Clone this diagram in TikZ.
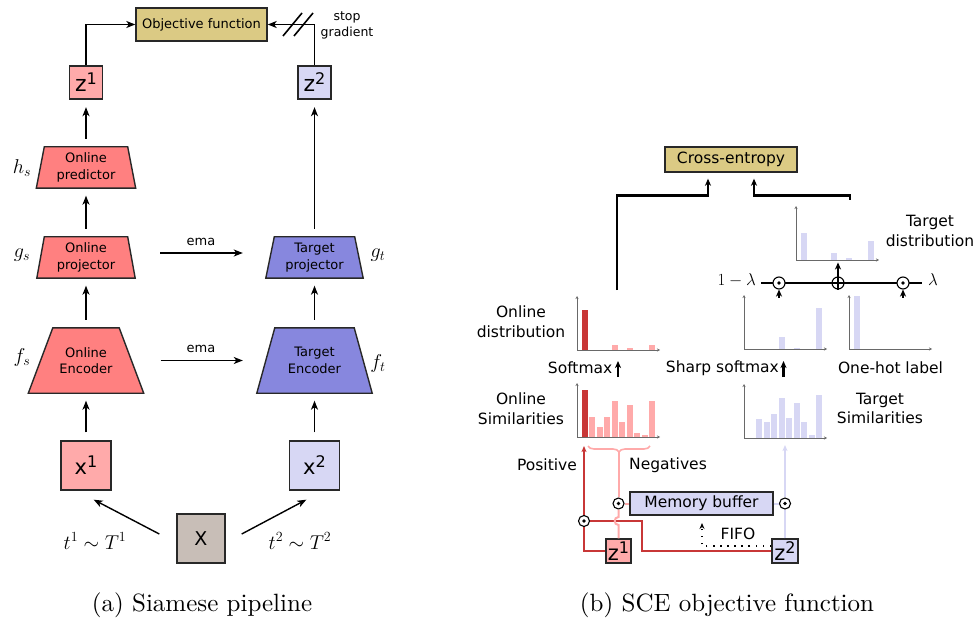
\RequirePackage{fix-cm}
\documentclass[tikz,border=0pt]{standalone}
\usepackage{fontspec}
\newfontfamily\dv{DejaVu Sans}
\newfontfamily\capfont{lmroman10-regular}[Extension=.otf]
\usetikzlibrary{arrows.meta,calc,decorations.pathreplacing}
\pgfdeclarelayer{bg}
\pgfsetlayers{bg,main}

\definecolor{objtan}{RGB}{219,202,132}
\definecolor{pinkbox}{RGB}{255,170,170}
\definecolor{onl}{RGB}{255,128,128}
\definecolor{tgt}{RGB}{135,135,222}
\definecolor{lav}{RGB}{215,215,244}
\definecolor{taupe}{RGB}{200,190,183}
\definecolor{dred}{RGB}{200,55,55}
\definecolor{edge}{RGB}{40,40,40}
\definecolor{axisgray}{RGB}{105,105,105}

% bar chart: origin x, origin y, list of slot/height/colour
\newcommand\sceBars[3]{%
  \foreach \s/\h/\c in {#3}{\fill[\c] ({#1+4.5+7.5*\s},#2) rectangle ++(6,-\h);}
  \draw[axisline] (#1,#2) -- ++(0,-54);
  \draw[axisline] (#1,#2) -- ++(83,0);
}
% trapezoid body behind a named text node
\newcommand\trapBody[3]{%
  \filldraw[fill=#3, draw=edge, line width=1.4pt, line join=miter]
    ($(#1.north west)+(#2,0)$) -- ($(#1.north east)+(-#2,0)$)
    -- (#1.south east) -- (#1.south west) -- cycle;}
% sans letter with a raised index
\newcommand\sansSup[4]{{\dv\fontsize{#3}{#3}\selectfont #1\raisebox{#4}{\fontsize{16}{16}\selectfont #2}}}

\begin{document}
\begin{tikzpicture}[x=1pt,y=-1pt,
  txt/.style={font=\dv\fontsize{13}{16.5}\selectfont, align=center, inner sep=0pt},
  rtxt/.style={font=\dv\fontsize{15.5}{19.5}\selectfont, align=center, inner sep=0pt},
  box/.style={draw=edge, line width=1.4pt, inner sep=0pt},
  mlbl/.style={font=\fontsize{20}{24}\selectfont, inner sep=0pt},
  rmlbl/.style={font=\fontsize{17}{20}\selectfont, inner sep=0pt},
  flow/.style={line width=1.4pt, -{Stealth[length=9pt,width=7pt,inset=2.5pt]}},
  gap/.style={shorten <=8pt, shorten >=7.5pt},
  thickflow/.style={line width=2.7pt, -{Stealth[length=7pt,width=6pt,inset=2pt]}},
  axisline/.style={draw=axisgray, line width=0.9pt, -{Stealth[length=3pt,width=3pt]}},
  redl/.style={draw=dred, line width=2pt},
  pinkl/.style={draw=pinkbox, line width=2pt},
  lavl/.style={draw=lav, line width=2pt},
  smallhead/.style={-{Stealth[length=6pt,width=5pt,inset=1.5pt]}},
  odot/.style={circle, draw=black, fill=white, line width=1.1pt, minimum size=11pt, inner sep=0pt},
  oplus/.style={circle, draw=black, fill=white, line width=1.1pt, minimum size=12pt, inner sep=0pt},
  caption/.style={font=\capfont\fontsize{25}{30}\selectfont, inner sep=0pt}
]
\useasboundingbox (0,0) rectangle (974,620);

% ---------------- (a) Siamese pipeline ----------------
\node[box, fill=objtan, minimum width=131pt, minimum height=33pt, txt] (obj) at (201.5,24.5) {Objective function};
\node[box, fill=pinkbox, minimum width=33pt, minimum height=33pt] (z1) at (86,82.5) {\sansSup{z}{1}{22}{7pt}};
\node[box, fill=lav, minimum width=33pt, minimum height=33pt] (z2) at (314.5,82.5) {\sansSup{z}{2}{22}{7pt}};

\node[txt, minimum width=99pt, minimum height=41pt] (pred) at (86,167.5) {Online\\predictor};
\node[txt, minimum width=98pt, minimum height=41pt] (proj) at (86,257.5) {Online\\projector};
\node[txt, minimum width=115pt, minimum height=65pt] (enc) at (86,360.5) {Online\\Encoder};
\node[txt, minimum width=97pt, minimum height=41pt] (tproj) at (314.5,257.5) {Target\\projector};
\node[txt, minimum width=115pt, minimum height=65pt] (tenc) at (314.5,360.5) {Target\\Encoder};
\begin{pgfonlayer}{bg}
  \trapBody{pred}{8}{onl}
  \trapBody{proj}{7.5}{onl}
  \trapBody{enc}{24.5}{onl}
  \trapBody{tproj}{8.5}{tgt}
  \trapBody{tenc}{18}{tgt}
\end{pgfonlayer}

\node[box, fill=pinkbox, minimum width=50pt, minimum height=49pt] (x1) at (86,465.5) {\sansSup{x}{1}{21}{7pt}};
\node[box, fill=lav, minimum width=50pt, minimum height=49pt] (x2) at (314.5,465.5) {\sansSup{x}{2}{21}{7pt}};
\node[box, fill=taupe, minimum width=48pt, minimum height=49pt, font=\dv\fontsize{19}{19}\selectfont] (X) at (201,538.5) {X};

\node[mlbl] (hs) at (22,168) {$h_s$};
\node[mlbl] (gs) at (22,255) {$g_s$};
\node[mlbl] (fs) at (22,357) {$f_s$};
\node[mlbl] (gt) at (378,255) {$g_t$};
\node[mlbl] (ft) at (378,363) {$f_t$};
\node[mlbl] (t1) at (95,541) {$t^1\sim T^1$};
\node[mlbl] (t2) at (300,541) {$t^2\sim T^2$};

\draw[flow] (z1.north) |- (obj.west);
\draw[flow] (z2.north) |- (obj.east);
\draw[line width=1.6pt] (283,36) -- (302,13) (294,36) -- (313,13);
\node[txt, font=\dv\fontsize{12.5}{16}\selectfont] (sg) at (347,25) {stop\\gradient};

\draw[flow,gap] (pred) -- (z1);
\draw[flow,gap] (proj) -- (pred);
\draw[flow,gap] (enc) -- (proj);
\draw[flow,gap] (x1) -- (enc);
\draw[flow,gap] (tproj) -- (z2);
\draw[flow,gap] (tenc) -- (tproj);
\draw[flow,gap] (x2) -- (tenc);

\draw[flow, shorten <=25pt, shorten >=23pt] ([yshift=4.5pt]proj.east) -- ([yshift=4.5pt]tproj.west);
\node[txt] (ema1) at (201,242) {ema};
\draw[flow, shorten <=17pt, shorten >=14pt] (enc.east) -- (tenc.west);
\node[txt] (ema2) at (201,349) {ema};

\draw[flow] ([xshift=-17pt,yshift=4.5pt]X.west) -- ([xshift=-18pt,yshift=-9pt]x1.south east);
\draw[flow] ([xshift=16pt,yshift=4.5pt]X.east) -- ([xshift=17.5pt,yshift=-9pt]x2.south west);

\node[caption] (capa) at (202,605) {(a) Siamese pipeline};

% ---------------- (b) SCE objective function ----------------
\node[box, fill=objtan, minimum width=132pt, minimum height=25pt, rtxt] (ce) at (731,159.5) {Cross-entropy};
\coordinate (onlOut) at (617,290);
\coordinate (tgtOut) at (850,200);
\draw[thickflow, shorten >=6pt] (onlOut) |- ($(ce.south)+(-23,23)$) -- ([xshift=-23pt]ce.south);
\draw[thickflow, shorten >=6pt] (tgtOut) |- ($(ce.south)+(23,23)$) -- ([xshift=23pt]ce.south);

% charts
\sceBars{796}{260}{0/27/lav,4/7/lav,6/2/lav,9/19/lav}
\sceBars{577}{350}{0/40/dred,4/5/pinkbox,6/2/pinkbox,9/5/pinkbox}
\sceBars{577}{437}{0/47/dred,1/20/pinkbox,2/10/pinkbox,3/20/pinkbox,4/36/pinkbox,5/15/pinkbox,6/32/pinkbox,7/4/pinkbox,8/2/pinkbox,9/36/pinkbox}
\sceBars{744}{349}{4/12/lav,6/1/lav,9/41/lav}
\sceBars{849}{349}{0/53/lav}
\sceBars{744}{438}{1/19/lav,2/16/lav,3/24/lav,4/40/lav,5/20/lav,6/35/lav,7/16/lav,8/3/lav,9/43/lav}

% mixing line
\coordinate (lamL) at (761,283);
\coordinate (lamR) at (922,283);
\draw[line width=2.7pt] (lamL) -- (lamR);
\node[odot, minimum size=12pt] (m1) at (779,283) {};
\node[oplus] (pl) at (838,283) {};
\node[odot, minimum size=12pt] (m2) at (903,283) {};
\draw[line width=1.1pt] (pl.north) -- (pl.south) (pl.west) -- (pl.east);
\draw[thickflow] ([yshift=-8pt]m1.south) -- (m1.south);
\draw[thickflow] ([yshift=-8pt]m2.south) -- (m2.south);
\draw[thickflow] (pl.north) -- ++(0,-14);
\node[rmlbl, anchor=east] (oml) at (756,280) {$1-\lambda$};
\node[rmlbl] (lam) at (933,280) {$\lambda$};

\node[rtxt] (tdist) at (930,231) {Target\\distribution};
\node[rtxt] (odist) at (521,321.5) {Online\\distribution};
\node[rtxt, anchor=east] (smx) at (612.5,368) {Softmax};
\node[rtxt, anchor=east] (ssmx) at (779,368) {Sharp softmax};
\node[rtxt] (ohl) at (890.5,368) {One-hot label};
\coordinate (smxA) at (618,377);
\coordinate (smxB) at (618,361);
\coordinate (ssmxA) at (783.5,377);
\coordinate (ssmxB) at (783.5,361);
\draw[thickflow, line width=2.2pt] (smxA) -- (smxB);
\draw[thickflow, line width=2.2pt] (ssmxA) -- (ssmxB);
\node[rtxt] (osim) at (521,408.5) {Online\\Similarities};
\node[rtxt] (tsim) at (880,408.5) {Target\\Similarities};

% pairing below the charts
\node[rtxt] (posl) at (547,465) {Positive};
\node[rtxt] (negl) at (668,465) {Negatives};
\node[box, fill=lav, minimum width=143pt, minimum height=23pt, rtxt] (mem) at (701.5,503.5) {Memory buffer};
\node[box, fill=pinkbox, minimum width=25pt, minimum height=24pt] (z1s) at (618.5,551) {\sansSup{z}{1}{21}{6.5pt}};
\node[box, fill=lav, minimum width=26pt, minimum height=24pt] (z2s) at (785,551) {\sansSup{z}{2}{21}{6.5pt}};
\coordinate (posTip) at (584,446);
\coordinate (negTip) at (618.5,452);
\coordinate (lavTip) at (785,445);
\coordinate (redKnee) at (642,521);
\coordinate (fifoTip) at (702,523);
\node[odot] (odr) at (584,521) {};
\node[odot] (odp) at (618.5,503.5) {};
\node[odot] (odl) at (785,503.5) {};

\draw[redl] (z1s.west) -| (odr.south);
\draw[redl] (z2s.west) -| (redKnee) -- (odr.east);
\draw[redl, smallhead] (odr.north) -- (posTip);
\draw[pinkl] (z1s.north) -- (618.5,525) .. controls (613.5,525) and (613.5,517) .. (618.5,517) -- (odp.south);
\draw[pinkl] (odp.north) -- (negTip);
\draw[pinkl] (odp.east) -- (mem.west);
\draw[pinkl, line width=1.6pt, decorate, decoration={brace, amplitude=6pt, mirror}] (588,446) -- (650,446);
\draw[lavl] (z2s.north) -- (odl.south);
\draw[lavl, smallhead] (odl.north) -- (lavTip);
\draw[lavl] (mem.east) -- (odl.west);
\draw[line width=1.6pt, dash pattern=on 1.6pt off 5.5pt, -{Stealth[length=6pt,width=5pt]}] ([yshift=5pt]z2s.west) -| (fifoTip);
\node[rtxt] (fifo) at (738,534) {FIFO};

% centre dots of the product nodes
\foreach \n in {m1,m2,odr,odp,odl} \fill (\n.center) circle[radius=1.9pt];

\node[caption] (capb) at (727,605) {(b) SCE objective function};
\end{tikzpicture}
\end{document}
